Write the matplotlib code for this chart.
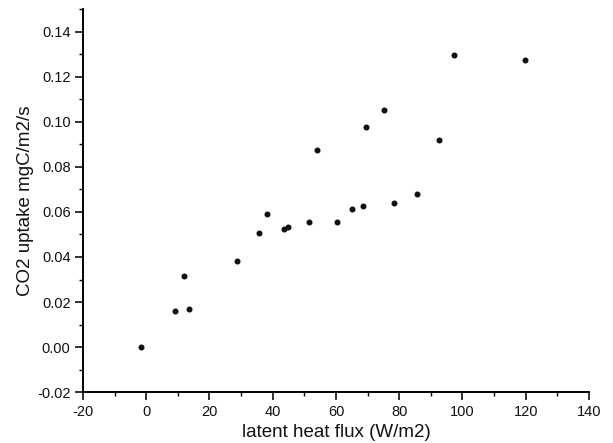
import matplotlib.pyplot as plt
from matplotlib.ticker import MultipleLocator

# latent heat flux (W/m2) vs CO2 uptake (mgC/m2/s)
latent_heat = [-1.6, 9.2, 12.0, 13.6, 28.7, 35.7, 38.3, 43.7, 44.8, 51.5,
               54.1, 60.3, 65.1, 68.4, 69.5, 75.2, 78.2, 85.5, 92.6, 97.4, 119.8]
co2_uptake = [0.0000, 0.0160, 0.0316, 0.0169, 0.0382, 0.0507, 0.0591, 0.0524, 0.0533, 0.0556,
              0.0876, 0.0556, 0.0615, 0.0627, 0.0978, 0.1053, 0.0640, 0.0680, 0.0920, 0.1298, 0.1276]

plt.rcParams['font.family'] = ['Liberation Sans', 'DejaVu Sans']
plt.rcParams['axes.unicode_minus'] = False

fig = plt.figure(figsize=(6.13, 4.43), dpi=100)
ax = fig.add_axes([0.1354, 0.1151, 0.8254, 0.8635])

ax.scatter(latent_heat, co2_uptake, s=11, color='#111111', zorder=3)

ax.set_xlim(-20, 140)
ax.set_ylim(-0.02, 0.15)
ax.xaxis.set_major_locator(MultipleLocator(20))
ax.xaxis.set_minor_locator(MultipleLocator(10))
ax.yaxis.set_major_locator(MultipleLocator(0.02))
ax.yaxis.set_minor_locator(MultipleLocator(0.01))
ax.set_yticks([-0.02, 0.0, 0.02, 0.04, 0.06, 0.08, 0.10, 0.12, 0.14])
ax.set_yticklabels(['-0.02', '0.00', '0.02', '0.04', '0.06', '0.08', '0.10', '0.12', '0.14'])

# spines
ax.spines['right'].set_visible(False)
ax.spines['top'].set_visible(False)
ax.spines['left'].set_linewidth(1.4)
ax.spines['bottom'].set_linewidth(1.4)

ax.tick_params(which='major', direction='out', length=6, width=1.2, labelsize=10.5,
               colors='#111111', pad=3)
ax.tick_params(which='minor', direction='out', length=3, width=1.0)

ax.set_xlabel('latent heat flux (W/m2)', fontsize=13.5, color='#111111', labelpad=4)
ax.set_ylabel('CO2 uptake mgC/m2/s', fontsize=13.5, color='#111111', labelpad=2)

fig.savefig('out.png', dpi=100)
